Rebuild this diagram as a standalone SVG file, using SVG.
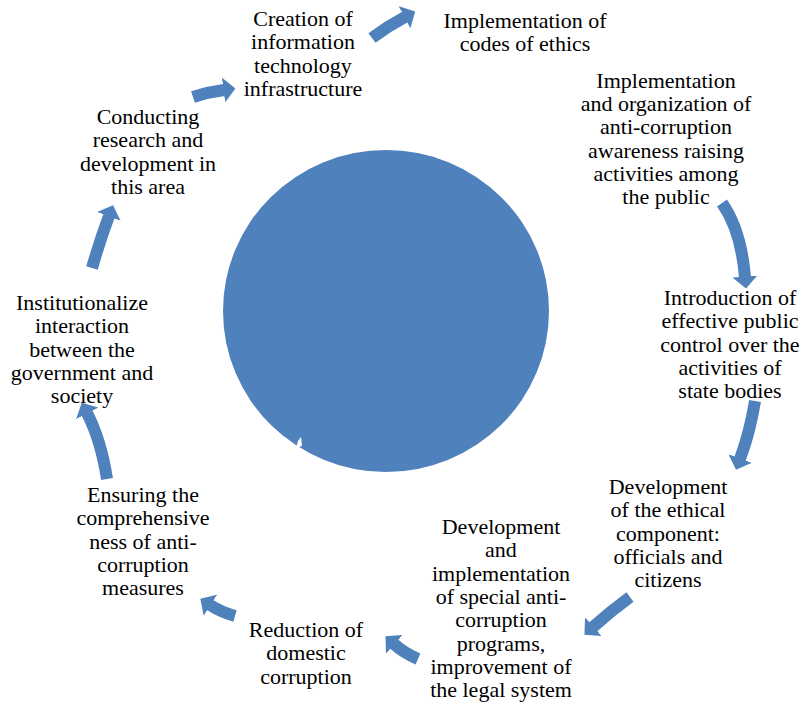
<svg xmlns="http://www.w3.org/2000/svg" width="804" height="705" viewBox="0 0 804 705">
<style>
  .t { font-family: "Liberation Serif", "Times New Roman", serif; font-size: 22px; fill: #000; text-anchor: middle; }
  .arr { fill: none; stroke: #4F81BD; stroke-width: 12; stroke-linecap: butt; marker-end: url(#head); }
</style>
<defs>
  <marker id="head" markerUnits="userSpaceOnUse" viewBox="0 0 12 25" refX="0.5" refY="12.5" markerWidth="12" markerHeight="25" orient="auto">
    <path d="M0,0 L12,12.5 L0,25 Z" fill="#4F81BD"/>
  </marker>
</defs>
<rect width="804" height="705" fill="#fff"/>

<g id="center">
  <ellipse cx="386" cy="311" rx="163" ry="161" fill="#4F81BD"/>
  <path d="M296,448 L298,441 L301,437 L302,446 Z" fill="#fff"/>
</g>

<g id="connectors">
  <path class="arr" d="M193,97 Q208,92 224,90"/>
  <path class="arr" d="M372,38 Q388,26 405,17"/>
  <path class="arr" d="M722,203 Q741,230 745,277"/>
  <path class="arr" d="M755,401 Q750,432 740,459"/>
  <path class="arr" d="M630,597 Q611,611 593,627"/>
  <path class="arr" d="M418,659 Q404,653 394,644"/>
  <path class="arr" d="M235,616 Q221,612 210,605"/>
  <path class="arr" d="M107,479 Q101,440 87,413"/>
  <path class="arr" d="M92,268 Q100,240 109,216"/>
</g>

<g id="n1">
  <text class="t"><tspan x="303" y="26">Creation of</tspan><tspan x="303" dy="23.3">information</tspan><tspan x="303" dy="23.3">technology</tspan><tspan x="303" dy="23.3">infrastructure</tspan></text>
</g>
<g id="n2">
  <text class="t"><tspan x="525" y="28">Implementation of</tspan><tspan x="525" dy="23.3">codes of ethics</tspan></text>
</g>
<g id="n3">
  <text class="t"><tspan x="666" y="88">Implementation</tspan><tspan x="666" dy="23.2">and organization of</tspan><tspan x="666" dy="23.2">anti-corruption</tspan><tspan x="666" dy="23.2">awareness raising</tspan><tspan x="666" dy="23.2">activities among</tspan><tspan x="666" dy="23.2">the public</tspan></text>
</g>
<g id="n4">
  <text class="t"><tspan x="730" y="305">Introduction of</tspan><tspan x="730" dy="23.3">effective public</tspan><tspan x="730" dy="23.3">control over the</tspan><tspan x="730" dy="23.3">activities of</tspan><tspan x="730" dy="23.3">state bodies</tspan></text>
</g>
<g id="n5">
  <text class="t"><tspan x="668" y="494">Development</tspan><tspan x="668" dy="23.3">of the ethical</tspan><tspan x="668" dy="23.3">component:</tspan><tspan x="668" dy="23.3">officials and</tspan><tspan x="668" dy="23.3">citizens</tspan></text>
</g>
<g id="n6">
  <text class="t"><tspan x="501" y="534">Development</tspan><tspan x="501" dy="23.3">and</tspan><tspan x="501" dy="23.3">implementation</tspan><tspan x="501" dy="23.3">of special anti-</tspan><tspan x="501" dy="23.3">corruption</tspan><tspan x="501" dy="23.3">programs,</tspan><tspan x="501" dy="23.3">improvement of</tspan><tspan x="501" dy="23.3">the legal system</tspan></text>
</g>
<g id="n7">
  <text class="t"><tspan x="306" y="637">Reduction of</tspan><tspan x="306" dy="23.3">domestic</tspan><tspan x="306" dy="23.3">corruption</tspan></text>
</g>
<g id="n8">
  <text class="t"><tspan x="143" y="502">Ensuring the</tspan><tspan x="143" dy="23.3">comprehensive</tspan><tspan x="143" dy="23.3">ness of anti-</tspan><tspan x="143" dy="23.3">corruption</tspan><tspan x="143" dy="23.3">measures</tspan></text>
</g>
<g id="n9">
  <text class="t"><tspan x="82" y="310">Institutionalize</tspan><tspan x="82" dy="23.3">interaction</tspan><tspan x="82" dy="23.3">between the</tspan><tspan x="82" dy="23.3">government and</tspan><tspan x="82" dy="23.3">society</tspan></text>
</g>
<g id="n10">
  <text class="t"><tspan x="148" y="124">Conducting</tspan><tspan x="148" dy="23.3">research and</tspan><tspan x="148" dy="23.3">development in</tspan><tspan x="148" dy="23.3">this area</tspan></text>
</g>
</svg>
